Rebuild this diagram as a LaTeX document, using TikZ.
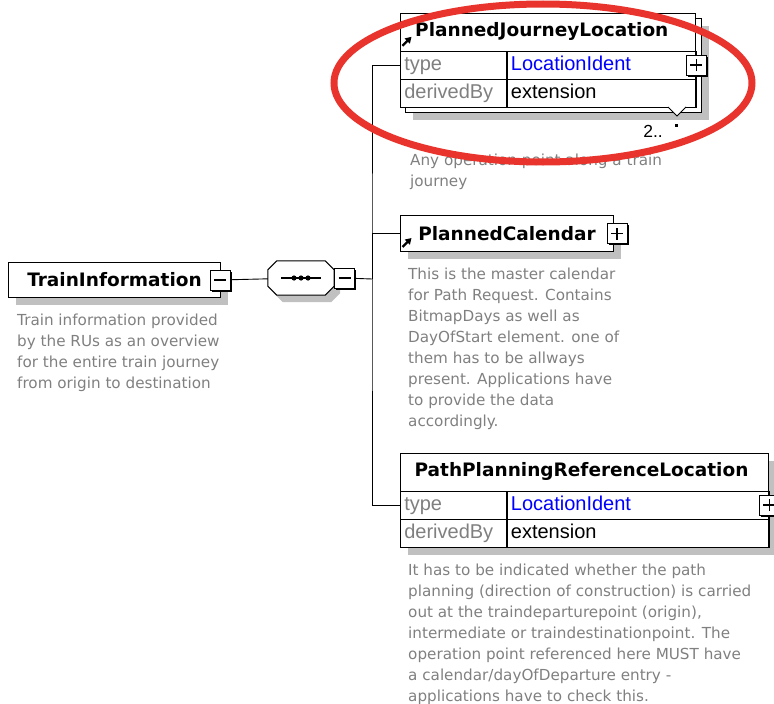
\documentclass[tikz,border=0pt]{standalone}
\usepackage{fontspec}
\setmainfont{DejaVu Sans}
\newfontfamily\cellfont{Liberation Sans}
\usetikzlibrary{positioning,shadows,arrows.meta}
\definecolor{shade}{RGB}{192,192,192}
\definecolor{note}{RGB}{128,128,128}
\definecolor{typelink}{RGB}{0,0,255}
\definecolor{ring}{RGB}{232,52,44}
\tikzset{
  elem/.style={draw, line width=1pt, fill=white, inner sep=0pt, anchor=north west,
    general shadow={fill=shade, shadow xshift=7pt, shadow yshift=-7pt}},
  title/.style={inner sep=0pt, font=\bfseries\fontsize{18.5}{22}\selectfont},
  cell/.style={draw, line width=0.6pt, inner xsep=4pt, inner ysep=0pt, minimum height=28pt,
    text height=14pt, text depth=4pt, align=left, font=\cellfont\fontsize{20}{22}\selectfont},
  pmbox/.style={draw, line width=1pt, fill=white, minimum size=20pt, inner sep=0pt,
    general shadow={fill=black, shadow xshift=1.5pt, shadow yshift=-1.5pt}},
  collapse/.style={pmbox, path picture={
    \draw[line width=1.3pt] ([xshift=-6pt]path picture bounding box.center) -- ([xshift=6pt]path picture bounding box.center);}},
  expand/.style={pmbox, path picture={
    \draw[line width=1.3pt] ([xshift=-6pt]path picture bounding box.center) -- ([xshift=6pt]path picture bounding box.center)
      ([yshift=-6pt]path picture bounding box.center) -- ([yshift=6pt]path picture bounding box.center);}},
  seqbox/.style={minimum width=66pt, minimum height=34pt, inner sep=0pt},
  desc/.style={anchor=north west, inner sep=0pt, align=left, text=note, font=\fontsize{15.2}{21}\selectfont},
  refarrow/.style={line width=2.2pt, -{Triangle[length=6pt,width=7pt]}},
  link/.style={line width=0.9pt}
}
\begin{document}
\begin{tikzpicture}[x=1pt,y=-1pt]
  \useasboundingbox (0,0) rectangle (774,704);

  \node[elem, minimum width=212pt, minimum height=35pt, title] (train) at (8,262) {TrainInformation};
  \node[collapse] (trainminus) at ([xshift=-1pt]train.east) {};
  \node[desc] (trainnote) at (17,314) {Train information provided\\by the RUs as an overview\\for the entire train journey\\from origin to destination};

  \node[seqbox] (seq) at (301,278) {};
  \draw[line width=1pt, fill=white, general shadow={fill=shade, shadow xshift=6pt, shadow yshift=-7pt}]
    ([xshift=9pt]seq.north west) -- ([xshift=-9pt]seq.north east) -- ([yshift=-9pt]seq.north east)
    -- ([yshift=9pt]seq.south east) -- ([xshift=-9pt]seq.south east) -- ([xshift=9pt]seq.south west)
    -- ([yshift=9pt]seq.south west) -- ([yshift=-9pt]seq.north west) -- cycle;
  \draw[line width=1.3pt] ([xshift=-20pt]seq.center) -- ([xshift=20pt]seq.center);
  \foreach \dx in {-7,0,7}
    \fill ([xshift=\dx pt]seq.center) circle[radius=2.6pt];
  \node[collapse, anchor=west] (seqminus) at (seq.east) {};
  \draw[link] (trainminus) -- (seq);
  \coordinate (bus) at (372,279);
  \draw[link] (seqminus) -- (bus);

  \node[elem, minimum width=296pt, minimum height=94pt] (pjlback) at (405,18) {};
  \node[draw, line width=1pt, fill=white, anchor=north west, inner sep=0pt,
    minimum width=295pt, minimum height=94pt] (pjl) at (400,13) {};
  \node[cell, text width=98pt, anchor=south west, text=note] (pjlderiv) at (pjl.south west) {derivedBy};
  \node[cell, text width=98pt, anchor=south west, text=note] (pjltype) at (pjlderiv.north west) {type};
  \node[cell, text width=181pt, anchor=west] (pjlext) at (pjlderiv.east) {extension};
  \node[cell, text width=181pt, anchor=west, text=typelink] (pjlloc) at (pjltype.east) {LocationIdent};
  \node[title, anchor=west] (pjltitle) at ([xshift=15pt,yshift=-18.5pt]pjl.north west) {PlannedJourneyLocation};
  \draw[refarrow] ([xshift=2.5pt,yshift=5pt]pjltype.north west) -- +(9,-9);
  \node[expand] (pjlplus) at (pjlloc.east) {};
  \draw[line width=0.8pt, fill=white] (668,107) -- (677,116) -- (686,107);
  \fill (674.5,123.5) rectangle +(3.5,3.5);
  \node[anchor=east, inner sep=0pt, font=\cellfont\fontsize{17.5}{18}\selectfont] (pjlmult) at (663,131) {2..};
  \node[desc] (pjlnote) at (410,154) {Any operation point along a train\\journey};

  \node[elem, minimum width=213pt, minimum height=36pt, title] (cal) at (400,215) {PlannedCalendar};
  \draw[refarrow] ([xshift=2.5pt,yshift=5pt]cal.south west) -- +(9,-9);
  \node[expand] (calplus) at ([xshift=3pt]cal.east) {};
  \node[desc] (calnote) at (408,268) {This is the master calendar\\for Path Request. Contains\\BitmapDays as well as\\DayOfStart element. one of\\them has to be allways\\present. Applications have\\to provide the data\\accordingly.};

  \node[elem, minimum width=368pt, minimum height=94pt] (ppr) at (400,453) {};
  \node[cell, text width=98pt, anchor=south west, text=note] (pprderiv) at (ppr.south west) {derivedBy};
  \node[cell, text width=98pt, anchor=south west, text=note] (pprtype) at (pprderiv.north west) {type};
  \node[cell, text width=254pt, anchor=west] (pprext) at (pprderiv.east) {extension};
  \node[cell, text width=254pt, anchor=west, text=typelink] (pprloc) at (pprtype.east) {LocationIdent};
  \node[title] (pprtitle) at ([xshift=-3pt,yshift=-18.5pt]ppr.north) {PathPlanningReferenceLocation};
  \node[expand] (pprplus) at (pprloc.east) {};
  \node[desc] (pprnote) at (408,564) {It has to be indicated whether the path\\planning (direction of construction) is carried\\out at the traindeparturepoint (origin),\\intermediate or traindestinationpoint. The\\operation point referenced here MUST have\\a calendar/dayOfDeparture entry -\\applications have to check this.};

  \draw[link] (pjltype.west) -| (bus) |- (pprtype.west);
  \draw[link] (bus) |- (cal.west);

  \draw[ring, line width=7pt] (543,83) ellipse [x radius=209pt, y radius=79pt];
\end{tikzpicture}
\end{document}
